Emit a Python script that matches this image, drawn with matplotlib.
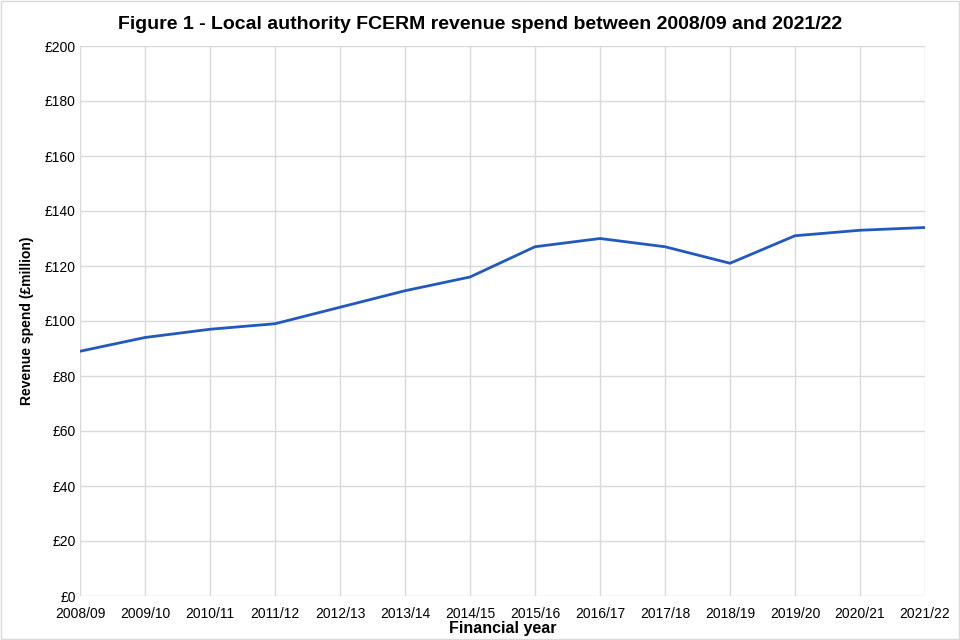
import matplotlib.pyplot as plt
from matplotlib.patches import Rectangle

# Financial years and LA revenue spend (GBP million)
years = ['2008/09', '2009/10', '2010/11', '2011/12', '2012/13', '2013/14', '2014/15',
         '2015/16', '2016/17', '2017/18', '2018/19', '2019/20', '2020/21', '2021/22']
spend = [89, 94, 97, 99, 105, 111, 116, 127, 130, 127, 121, 131, 133, 134]
y_ticks = list(range(0, 201, 20))

plt.rcParams['font.family'] = ['Liberation Sans', 'DejaVu Sans']

fig = plt.figure(figsize=(9.6, 6.4), dpi=100)
ax = fig.add_axes([80 / 960, 1 - 596 / 640, 845 / 960, 550 / 640])

ax.plot(range(len(years)), spend, color='#2159bf', linewidth=2)

ax.set_xlim(0, len(years) - 1)
ax.set_ylim(0, 200)
ax.set_xticks(range(len(years)))
ax.set_xticklabels(years, fontsize=10)
ax.set_yticks(y_ticks)
ax.set_yticklabels(['£%d' % v for v in y_ticks], fontsize=10)
ax.tick_params(axis='x', length=0, pad=8)
ax.tick_params(axis='y', length=0, pad=3)
ax.grid(True, color='#d9d9d9', linewidth=1)
ax.set_axisbelow(True)
for s in ax.spines.values():
    s.set_visible(False)

ax.set_xlabel('Financial year', fontsize=11.5, fontweight='bold', labelpad=0)
ax.set_ylabel('Revenue spend (£million)', fontsize=10, fontweight='bold', labelpad=8)
fig.suptitle('Figure 1 - Local authority FCERM revenue spend between 2008/09 and 2021/22',
             fontsize=14, fontweight='bold', y=0.975)

# light border round the whole chart
fig.patches.append(Rectangle((0.001, 0.001), 0.998, 0.998, transform=fig.transFigure,
                             fill=False, edgecolor='#d9d9d9', linewidth=1))

fig.savefig('out.png', dpi=100)
